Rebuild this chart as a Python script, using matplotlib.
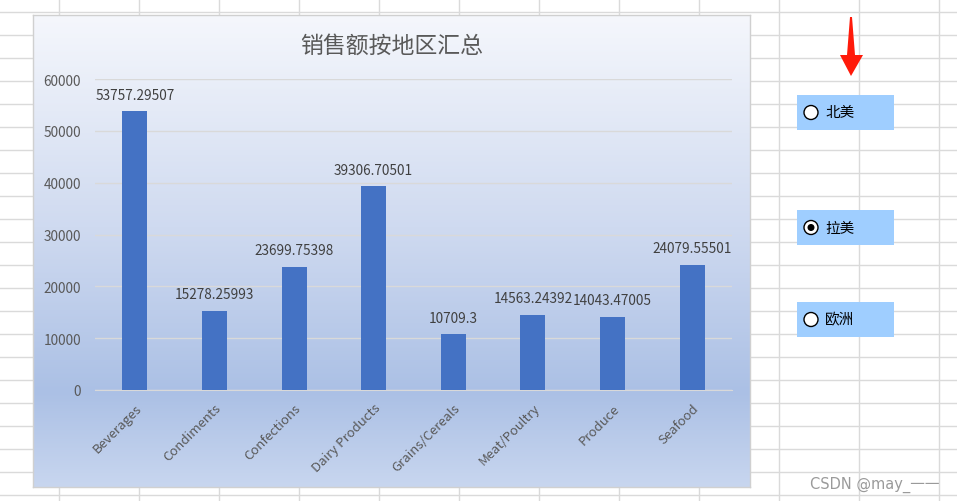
import numpy as np
import matplotlib
matplotlib.use("Agg")
import matplotlib.pyplot as plt
from matplotlib.patches import Rectangle, Circle, Polygon
from matplotlib.colors import LinearSegmentedColormap

plt.rcParams['font.family'] = ['Noto Sans CJK SC', 'DejaVu Sans']

title = "销售额按地区汇总"
categories = ["Beverages", "Condiments", "Confections", "Dairy Products",
              "Grains/Cereals", "Meat/Poultry", "Produce", "Seafood"]
values = [53757.29507, 15278.25993, 23699.75398, 39306.70501,
          10709.3, 14563.24392, 14043.47005, 24079.55501]
value_labels = ["53757.29507", "15278.25993", "23699.75398", "39306.70501",
                "10709.3", "14563.24392", "14043.47005", "24079.55501"]
yticks = [0, 10000, 20000, 30000, 40000, 50000, 60000]
radio_labels = ["北美", "拉美", "欧洲"]
radio_selected = 1
watermark = "CSDN @may_一一"

W, H = 957, 502
fig = plt.figure(figsize=(W / 100, H / 100), dpi=100)

def frac(x0, y0, x1, y1):
    return [x0 / W, 1 - y1 / H, (x1 - x0) / W, (y1 - y0) / H]

# ---- Excel sheet background ----
bg = fig.add_axes([0, 0, 1, 1])
bg.set_xlim(0, W)
bg.set_ylim(H, 0)
bg.axis('off')
bg.add_patch(Rectangle((0, 0), W, H, facecolor='white', edgecolor='none'))
for x in np.arange(59, W, 80):
    bg.axvline(x, color='#dadada', lw=1)
for y in np.arange(13, H, 23):
    bg.axhline(y, color='#dadada', lw=1)

# radio buttons
box_tops = [96, 211, 303]
for i, (lab, top) in enumerate(zip(radio_labels, box_tops)):
    bg.add_patch(Rectangle((797, top), 97, 35, facecolor='#9fceff', edgecolor='none', zorder=3))
    cy = top + 17.5
    bg.add_patch(Circle((811, cy), 7, facecolor='white', edgecolor='black', lw=1, zorder=4))
    if i == radio_selected:
        bg.add_patch(Circle((811, cy), 3.5, facecolor='black', edgecolor='none', zorder=5))
    bg.text(825, cy, lab, fontsize=10.5, color='black', va='center', ha='left', zorder=5)

# red arrow
bg.add_patch(Polygon([(850, 18), (852, 18), (855, 56), (863, 56), (851, 77),
                      (840, 56), (847, 56)], closed=True,
                     facecolor='#ff1a0a', edgecolor='none', zorder=3))

bg.text(940, 485, watermark, fontsize=10.5, color='#9a9a9a', ha='right', va='center',
        family=['DejaVu Sans', 'Noto Sans CJK SC'], zorder=6)

# ---- chart area with gradient ----
chart = fig.add_axes(frac(33, 16, 750, 488))
chart.set_xlim(0, 1)
chart.set_ylim(0, 1)
cmap = LinearSegmentedColormap.from_list('g', [
    (0.0, '#c8d6ef'),
    (0.20, '#abc0e5'),
    (0.55, '#cfdaf0'),
    (1.0, '#f5f7fc'),
])
grad = np.linspace(0, 1, 256).reshape(-1, 1)
chart.imshow(grad, extent=[0, 1, 0, 1], origin='lower', aspect='auto', cmap=cmap)
chart.set_xticks([])
chart.set_yticks([])
for s in chart.spines.values():
    s.set_color('#d0d0d0')
    s.set_linewidth(1)
chart.text(0.5, 1 - (46 - 16) / (488 - 16), title, fontsize=16.5, color='#595959',
           ha='center', va='center')

# ---- plot area ----
ax = fig.add_axes(frac(95, 80, 732, 391))
ax.patch.set_alpha(0)
x = np.arange(len(categories))
ax.bar(x, values, width=0.315, color='#4472c4', zorder=3)
ax.set_xlim(-0.5, len(categories) - 0.5)
ax.set_ylim(0, 60000)
ax.set_yticks(yticks)
ax.set_yticklabels([str(v) for v in yticks])
ax.grid(axis='y', color='#d9d9d9', lw=1, zorder=0)
for s in ['top', 'right', 'left']:
    ax.spines[s].set_visible(False)
ax.spines['bottom'].set_color('#d9d9d9')
ax.tick_params(axis='y', length=0, pad=10, labelsize=9.8, labelcolor='#595959')
ax.tick_params(axis='x', length=0, pad=8, labelsize=9.5, labelcolor='#595959')
ax.set_xticks(x)
ax.set_xticklabels(categories, rotation=45, ha='right', rotation_mode='anchor')
for xi, v, lab in zip(x, values, value_labels):
    ax.annotate(lab, (xi, v), xytext=(0, 7), textcoords='offset points',
                ha='center', va='bottom', fontsize=9.8, color='#404040')

fig.savefig('out.png', dpi=100)
